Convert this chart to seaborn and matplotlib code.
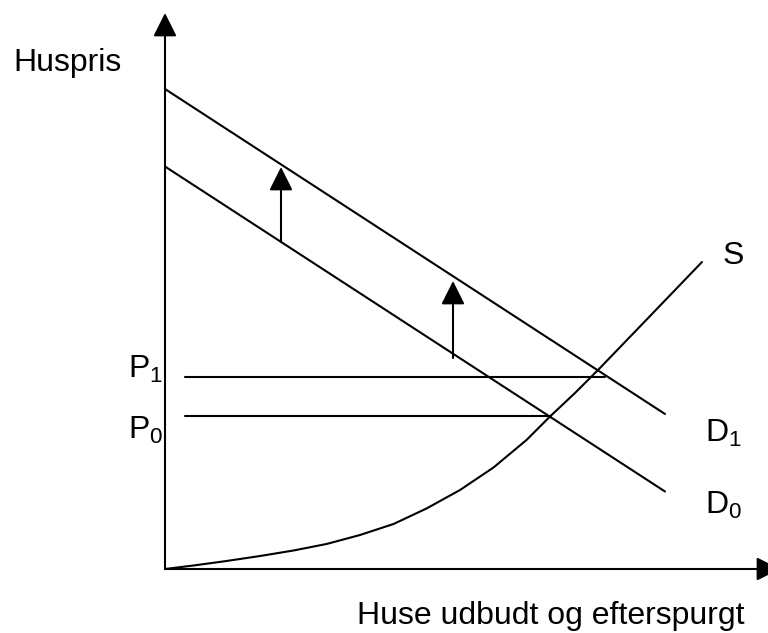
import matplotlib
matplotlib.use("Agg")
import matplotlib.pyplot as plt
import seaborn as sns

# ---- data (quantity / price units) ----
demand_q = [0, 100]
demand0_p = [80.5, 15.5]
demand1_p = [96.0, 31.0]

supply_q = [0, 5.7, 12.3, 19.0, 25.7, 32.3, 39.0, 45.7, 52.3, 59.0, 65.7, 72.3, 77.0,
            82.0, 86.8, 92.0, 97.4, 102.4, 107.4]
supply_p = [0, 0.7, 1.6, 2.6, 3.7, 5.0, 6.8, 9.0, 12.1, 15.8, 20.3, 25.8, 30.5,
            35.2, 40.0, 45.4, 51.0, 56.2, 61.4]

price_levels = [30.6, 38.4]            # P0, P1
price_line_q = [[4, 77.2], [4, 88.0]]  # start / end quantity of P0 and P1 lines
price_labels = ["P$_0$", "P$_1$"]

shift_q = [23.2, 57.6]                 # demand-shift arrows
shift_from = [65.4, 42.2]
shift_to = [80.4, 57.6]

curve_labels = ["S", "D$_1$", "D$_0$"]
y_label = "Huspris"
x_label = "Huse udbudt og efterspurgt"

# ---- style ----
sns.set_theme(style="white")
plt.rcParams["font.family"] = ["Liberation Sans", "DejaVu Sans"]
plt.rcParams["mathtext.default"] = "regular"

fig = plt.figure(figsize=(7.68, 6.33), dpi=100)
ax = fig.add_axes([0, 0, 1, 1])
ax.set_xlim(-33, 120.6)
ax.set_ylim(-12.8, 113.8)
ax.axis("off")

lw = 1.5
fs = 23
txt_color = "black"

# axes with arrow heads
arrow_style = "-|>,head_length=1,head_width=0.5"
ax.annotate("", xy=(0, 111.2), xytext=(0, 0), annotation_clip=False,
            arrowprops=dict(arrowstyle=arrow_style, mutation_scale=14.4,
                            lw=lw, color="black", shrinkA=0, shrinkB=0))
ax.annotate("", xy=(123, 0), xytext=(0, 0), annotation_clip=False,
            arrowprops=dict(arrowstyle=arrow_style, mutation_scale=14.4,
                            lw=lw, color="black", shrinkA=0, shrinkB=0))

# demand curves
sns.lineplot(x=demand_q, y=demand1_p, ax=ax, color="black", lw=lw, sort=False, estimator=None)
sns.lineplot(x=demand_q, y=demand0_p, ax=ax, color="black", lw=lw, sort=False, estimator=None)
# supply curve
sns.lineplot(x=supply_q, y=supply_p, ax=ax, color="black", lw=lw, sort=False, estimator=None)

# price lines
for p, (q0, q1) in zip(price_levels, price_line_q):
    sns.lineplot(x=[q0, q1], y=[p, p], ax=ax, color="black", lw=lw, sort=False, estimator=None)

# shift arrows
for q, a, b in zip(shift_q, shift_from, shift_to):
    ax.annotate("", xy=(q, b), xytext=(q, a), annotation_clip=False,
                arrowprops=dict(arrowstyle=arrow_style, mutation_scale=14.4,
                                lw=lw, color="black", shrinkA=0, shrinkB=0))

# labels
ax.text(-30.4, 99.6, y_label, fontsize=fs, ha="left", va="baseline", color=txt_color)
ax.text(77.1, -11.0, x_label, fontsize=fs, ha="center", va="baseline", color=txt_color)
ax.text(111.6, 61.0, curve_labels[0], fontsize=fs, ha="left", va="baseline", color=txt_color)
ax.text(108.0, 25.4, curve_labels[1], fontsize=fs, ha="left", va="baseline", color=txt_color)
ax.text(108.0, 11.0, curve_labels[2], fontsize=fs, ha="left", va="baseline", color=txt_color)
ax.text(-7.4, price_levels[1] - 0.2, price_labels[1], fontsize=fs, ha="left", va="baseline", color=txt_color)
ax.text(-7.4, price_levels[0] - 4.6, price_labels[0], fontsize=fs, ha="left", va="baseline", color=txt_color)

fig.savefig("out.png", dpi=100)
